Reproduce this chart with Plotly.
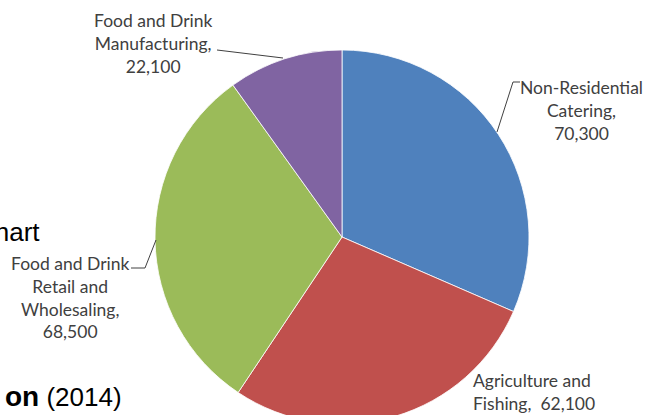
import plotly.graph_objects as go

categories = ["Non-Residential Catering", "Agriculture and Fishing",
              "Food and Drink Retail and Wholesaling", "Food and Drink Manufacturing"]
values = [70300, 62100, 68500, 22100]
colors = ["#4F81BD", "#C0504D", "#9BBB59", "#8064A2"]
label_texts = ["Non-Residential<br>Catering,<br>70,300",
               "Agriculture and<br>Fishing,  62,100",
               "Food and Drink<br>Retail and<br>Wholesaling,<br>68,500",
               "Food and Drink<br>Manufacturing,<br>22,100"]

W, H = 645, 440
def px(x): return x / W
def py(y): return 1 - y / H

cx, cy, r = 342, 237, 187

fig = go.Figure(go.Pie(
    labels=categories, values=values, sort=False, direction="clockwise", rotation=0,
    marker=dict(colors=colors, line=dict(color="white", width=0.8)),
    textinfo="none", hoverinfo="label+value", showlegend=False,
    domain=dict(x=[px(cx - r), px(cx + r)], y=[py(cy + r), py(cy - r)]),
))

lab_font = dict(family="Lato, Open Sans, sans-serif", size=17.5, color="#404040")
lab_pos = [(581, 111, "center", "middle"), (471, 392, "left", "middle"),
           (70, 297, "center", "middle"), (153, 44, "center", "middle")]
anns = []
for t, (x, y, xa, ya) in zip(label_texts, lab_pos):
    anns.append(dict(x=px(x), y=py(y), xref="paper", yref="paper", text=t, showarrow=False,
                     xanchor=xa, yanchor=ya, align=xa, font=lab_font))

big = dict(family="Liberation Sans, Arial", size=26, color="#000")
anns.append(dict(x=px(42), y=py(232), xref="paper", yref="paper", text="Chart", showarrow=False,
                 xanchor="right", yanchor="middle", font=big))
anns.append(dict(x=px(124), y=py(396), xref="paper", yref="paper",
                 text="<b><span style='font-size:28px'>on</span></b> (2014)", showarrow=False,
                 xanchor="right", yanchor="middle", font=big))

leader = dict(color="#404040", width=1)
lines = [
    [(520, 82), (513, 82), (497, 132)],
    [(217, 50), (283, 58)],
    [(131, 268), (145, 268), (156, 240)],
]
shapes = []
for seg in lines:
    path = "M " + " L ".join(f"{px(x)},{py(y)}" for x, y in seg)
    shapes.append(dict(type="path", path=path, xref="paper", yref="paper", line=leader))

fig.update_layout(width=W, height=H, margin=dict(l=0, r=0, t=0, b=0),
                  paper_bgcolor="white", plot_bgcolor="white",
                  annotations=anns, shapes=shapes)
fig.write_html("out.html", config={"displayModeBar": False},
               post_script="document.body.style.margin='0';document.body.style.overflow='hidden';")
